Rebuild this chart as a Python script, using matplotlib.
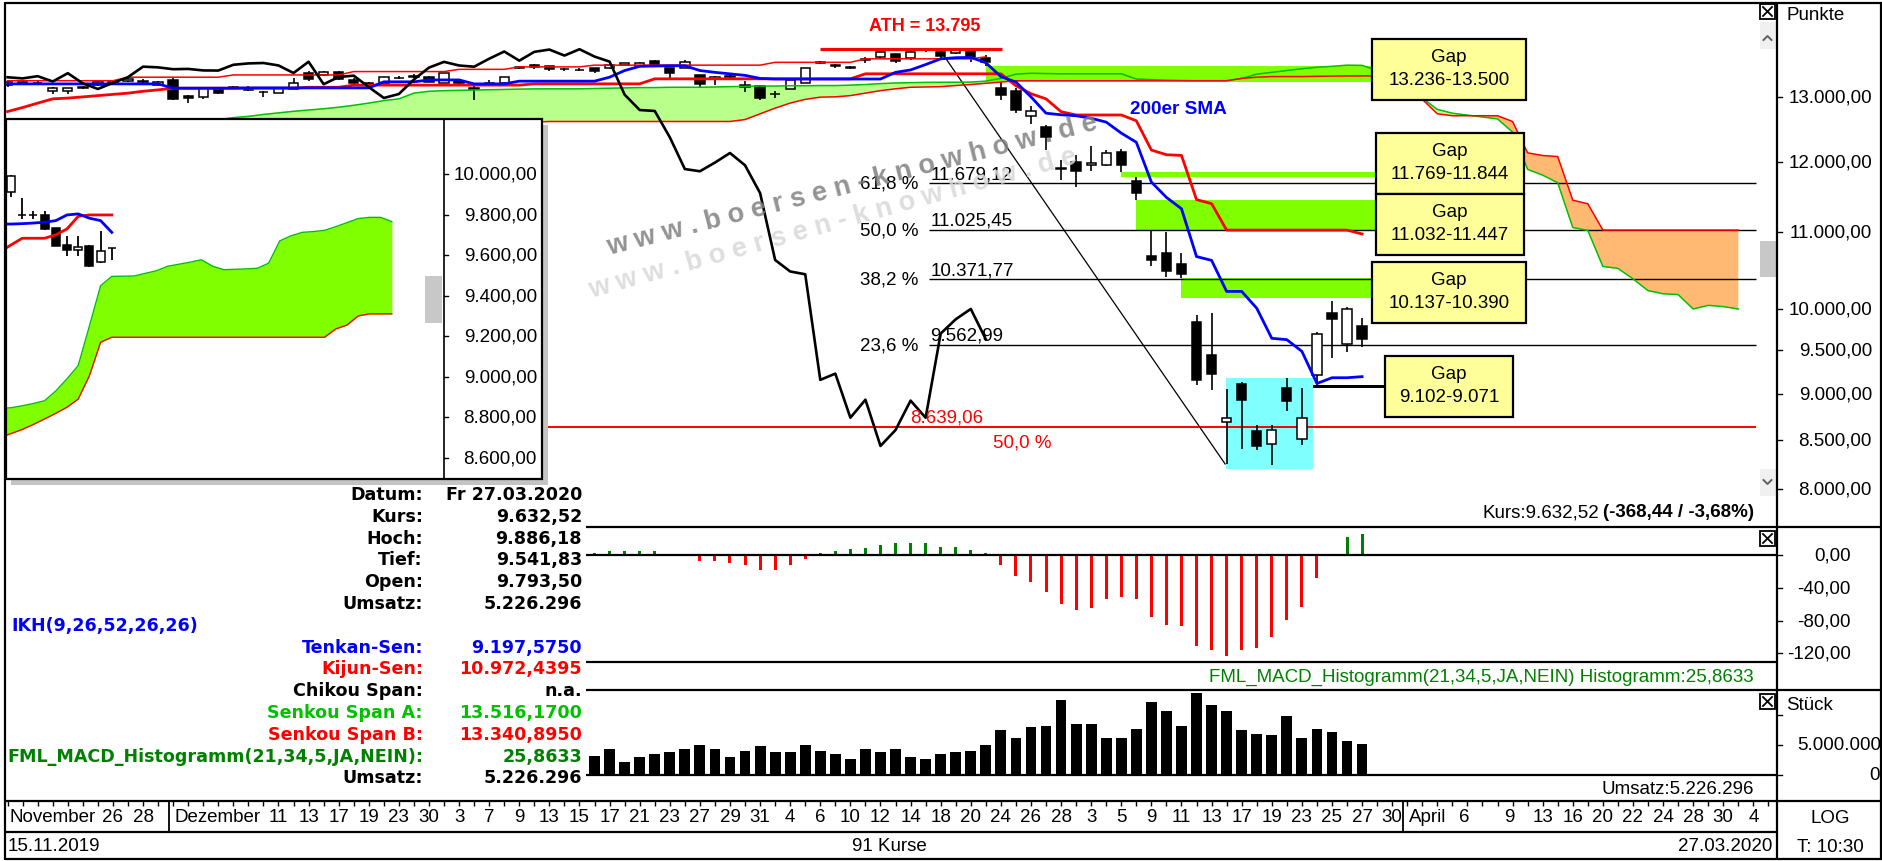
import numpy as np
import matplotlib
matplotlib.use("Agg")
import matplotlib.pyplot as plt
from matplotlib.patches import Rectangle
from matplotlib.transforms import blended_transform_factory as blend

W, H = 1883, 862
LS = "Liberation Sans"
DJ = "DejaVu Sans"
FS = 13.5

# DAX Tageskerzen 15.11.2019 - 27.03.2020 (91 Kurse), index 0 = 15.11.2019
opens = [13190, 13235, 13230, 13100, 13090, 13150, 13200, 13245, 13255, 13260,
         13200, 13270, 13020, 12990, 13120, 13150, 13150, 13080, 13070, 13130,
         13390, 13350, 13410, 13280, 13225, 13230, 13310, 13320, 13330, 13230,
         13250, 13140, 13210, 13220, 13480, 13520, 13500, 13450, 13445, 13470,
         13470, 13520, 13500, 13590, 13470, 13480, 13350, 13290, 13330, 13200,
         13180, 13050, 13130, 13230, 13560, 13530, 13480, 13610, 13650, 13700,
         13640, 13770, 13750, 13730, 13780, 13640, 13150, 13100, 12690, 12520,
         11900, 12000, 11950, 11950, 12150, 11720, 10680, 10720, 10570, 9844,
         9450, 8700, 9110, 8600, 8465, 9070, 8520, 9215, 9950, 9580,
         9793.50]
highs = [13250, 13260, 13260, 13160, 13150, 13180, 13265, 13270, 13300, 13290,
         13260, 13300, 13030, 13150, 13160, 13180, 13170, 13100, 13150, 13300,
         13425, 13425, 13420, 13300, 13240, 13330, 13340, 13380, 13345, 13390,
         13270, 13180, 13280, 13330, 13510, 13540, 13510, 13480, 13470, 13480,
         13530, 13560, 13570, 13600, 13480, 13600, 13360, 13340, 13370, 13250,
         13200, 13100, 13290, 13480, 13590, 13540, 13500, 13650, 13760, 13710,
         13760, 13790, 13760, 13795, 13790, 13689, 13236, 13140, 12860, 12560,
         12020, 12100, 12240, 12180, 12190, 11769, 11032, 11000, 10720, 9930,
         9955, 9060, 9138, 8665, 8665, 9182, 9071, 9720, 10100, 10030,
         9886.18]
lows = [13160, 13190, 13200, 13050, 13040, 13120, 13170, 13210, 13240, 13230,
        13190, 12950, 12900, 12970, 13040, 13120, 13100, 12990, 13060, 13120,
        13250, 13340, 13280, 13200, 13170, 13220, 13290, 13300, 13240, 13220,
        13180, 12950, 13190, 13180, 13460, 13460, 13420, 13420, 13420, 13390,
        13460, 13500, 13490, 13500, 13300, 13470, 13160, 13190, 13300, 13080,
        12950, 12980, 13120, 13220, 13540, 13480, 13450, 13560, 13640, 13560,
        13610, 13740, 13620, 13710, 13570, 13500, 12950, 12740, 12570, 12180,
        11724, 11630, 11860, 11930, 11844, 11447, 10550, 10410, 10390, 9100,
        9050, 8256, 8410, 8395, 8250, 8815, 8450, 9102, 9410, 9480,
        9541.83]
closes = [13242, 13207, 13221, 13148, 13137, 13164, 13247, 13232, 13287, 13245,
          13236, 12965, 12989, 13140, 13055, 13167, 13105, 13071, 13141, 13222,
          13283, 13407, 13287, 13222, 13212, 13319, 13300, 13337, 13249, 13386,
          13219, 13127, 13227, 13321, 13495, 13483, 13452, 13457, 13432, 13430,
          13526, 13549, 13556, 13515, 13389, 13577, 13205, 13324, 13345, 13158,
          12982, 13046, 13282, 13479, 13575, 13514, 13494, 13628, 13750, 13595,
          13744, 13783, 13681, 13789, 13664, 13579, 13035, 12790, 12775, 12367,
          11890, 11857, 11985, 12128, 11945, 11542, 10625, 10475, 10439, 9161,
          9232, 8742, 8939, 8442, 8610, 8929, 8742, 9701, 9874, 10000.96,
          9632.52]

# Ichimoku (IKH 9,26,52,26,26) as drawn
tenkan = [13210, 13210, 13210, 13210, 13210, 13210, 13210, 13210, 13210, 13210,
          13210, 13140, 13140, 13140, 13140, 13140, 13145, 13145, 13145, 13145,
          13145, 13145, 13145, 13145, 13145, 13244, 13244, 13244, 13275, 13275,
          13275, 13210, 13210, 13210, 13255, 13255, 13255, 13255, 13255, 13255,
          13320, 13430, 13500, 13505, 13510, 13510, 13430, 13400, 13375, 13350,
          13300, 13290, 13290, 13290, 13290, 13290, 13290, 13290, 13290, 13400,
          13440, 13530, 13626, 13645, 13650, 13560, 13330, 13240, 13000, 12740,
          12715, 12700, 12660, 12600, 12430, 12290, 11700, 11480, 11320, 10670,
          10620, 10220, 10220, 10010, 9644, 9628, 9490, 9120, 9185, 9185,
          9197.5750]
kijun = [12766, 12830, 12900, 12968, 12980, 13000, 13020, 13040, 13060, 13090,
         13113, 13140, 13140, 13140, 13140, 13140, 13140, 13140, 13140, 13140,
         13155, 13155, 13155, 13190, 13190, 13190, 13190, 13190, 13190, 13190,
         13190, 13190, 13190, 13190, 13190, 13211, 13211, 13211, 13211, 13211,
         13211, 13211, 13211, 13293, 13293, 13293, 13293, 13293, 13293, 13293,
         13293, 13293, 13293, 13293, 13293, 13293, 13293, 13376, 13376, 13376,
         13376, 13376, 13376, 13376, 13376, 13376, 13376, 13180, 13050, 12968,
         12763, 12712, 12712, 12712, 12712, 12621, 12172, 12102, 12092, 11448,
         11392, 11025, 11025, 11025, 11025, 11025, 11025, 11025, 11025, 11025,
         10972.4395]
span_start = 10   # first index of the senkou arrays (runs 25 bars into the future)
senkou_a = [12550, 12580, 12600, 12620, 12640, 12670, 12690, 12720, 12745, 12770,
            12790, 12810, 12835, 12865, 12900, 12940, 12968, 13060, 13090, 13100,
            13105, 13110, 13115, 13120, 13125, 13129, 13130, 13130, 13130, 13135,
            13140, 13145, 13150, 13150, 13155, 13155, 13155, 13160, 13165, 13170,
            13175, 13175, 13180, 13180, 13183, 13183, 13190, 13200, 13215, 13225,
            13230, 13235, 13237, 13237, 13240, 13255, 13300, 13370, 13385, 13380,
            13376, 13376, 13376, 13376, 13376, 13290, 13280, 13270, 13265, 13262,
            13262, 13262, 13300, 13370, 13400, 13430, 13460, 13485, 13500, 13520,
            13516.17, 13430, 13300, 13150, 12980, 12800, 12740, 12710, 12680, 12650,
            12445, 11885, 11800, 11690, 11060, 11020, 10540, 10515, 10380, 10230,
            10190, 10180, 10000, 10045, 10030, 10000]
senkou_b = [12600, 12600, 12600, 12600, 12600, 12600, 12600, 12600, 12600, 12600,
            12600, 12600, 12600, 12600, 12600, 12600, 12600, 12600, 12600, 12600,
            12600, 12600, 12600, 12600, 12600, 12600, 12610, 12610, 12610, 12610,
            12610, 12610, 12610, 12610, 12610, 12610, 12610, 12610, 12610, 12640,
            12730, 12820, 12900, 12960, 12995, 13000, 13020, 13060, 13100, 13130,
            13155, 13160, 13165, 13183, 13200, 13220, 13240, 13262, 13262, 13262,
            13262, 13262, 13262, 13262, 13262, 13262, 13262, 13262, 13262, 13262,
            13262, 13262, 13300, 13320, 13330, 13330, 13330, 13335, 13338, 13340,
            13340.8950, 13341, 13270, 13180, 12960, 12730, 12700, 12700, 12700, 12700,
            12610, 12130, 12090, 12075, 11440, 11390, 11025, 11025, 11025, 11025,
            11025, 11025, 11025, 11025, 11025, 11025]
red_top = [13262, 13262, 13262, 13262, 13262, 13262, 13262, 13262, 13320, 13320,
           13320, 13320, 13320, 13320, 13320, 13357, 13357, 13357, 13357, 13357,
           13357, 13357, 13357, 13413, 13413, 13413, 13413, 13413, 13413, 13413,
           13450, 13450, 13450, 13450, 13491, 13491, 13491, 13491, 13491, 13520,
           13520, 13520, 13520, 13520, 13520, 13520, 13520, 13520, 13520, 13520,
           13520, 13567, 13567, 13567, 13567, 13567, 13567, 13626, 13626, 13626,
           13626, 13626, 13626, 13626, 13626, 13660]
chikou_shift = 25

# FML_MACD_Histogramm(21,34,5) and Umsatz, visible part from index 38
sub_start = 38
macd_hist = [3.0, 2.9, 4.5, 4.5, 4.5, 4.5, 0.4, 0.3, -7.3, -7.3,
             -9.4, -12.6, -18.8, -18.8, -12.6, -5.3, 2.9, 4.5, 6.9, 8.2,
             12.2, 14.3, 14.3, 14.3, 10.2, 10.2, 6.5, 2.9, -12.6, -25.7,
             -33.0, -44.9, -60.4, -67.7, -64.5, -54.3, -51.0, -54.3, -75.5, -84.9,
             -86.9, -111.4, -115.5, -122.8, -115.5, -113.4, -100.0, -79.0, -63.4, -27.6,
             0.5, 21.8, 25.8633]
volume_mio = [3.8, 3.2, 4.3, 2.1, 2.95, 3.5, 3.8, 4.3, 5.05, 4.3,
              2.95, 3.95, 4.8, 3.8, 3.8, 5.05, 4.0, 3.5, 2.7, 4.3,
              3.8, 4.3, 2.95, 2.7, 3.5, 3.8, 4.05, 5.05, 7.5, 6.1,
              7.95, 8.2, 12.4, 8.5, 8.5, 6.1, 6.1, 7.65, 12.1, 10.55,
              8.2, 13.65, 11.55, 10.55, 7.4, 6.85, 6.65, 9.8, 6.2, 7.6,
              7.2, 5.65, 5.226296]

# Fibonacci / ATH / gaps
ath = 13795
fib_low = 8256
fib_pct = ["61,8 %", "50,0 %", "38,2 %", "23,6 %"]
fib_val = [11679.12, 11025.45, 10371.77, 9562.99]
red_level = 8639.06
gap_lo = [13236, 11769, 11032, 10137, 9071]
gap_hi = [13500, 11844, 11447, 10390, 9102]
gap_from = [65, 74, 75, 78, 86]
gap_txt = ["13.236-13.500", "11.769-11.844", "11.032-11.447", "10.137-10.390", "9.102-9.071"]

# Inset chart (Ausschnitt)
in_open = [9910, 9800, 9800, 9798, 9732, 9650, 9623, 9647, 9564, 9636]
in_high = [9995, 9880, 9815, 9815, 9735, 9696, 9696, 9650, 9720, 9636]
in_low = [9885, 9778, 9778, 9725, 9643, 9594, 9597, 9540, 9562, 9577]
in_close = [9990, 9796, 9797, 9729, 9647, 9627, 9640, 9548, 9622, 9633]
in_blue = [9753, 9753, 9755, 9758, 9762, 9770, 9798, 9803, 9782, 9770, 9712]
in_red = [9615, 9650, 9683, 9683, 9683, 9700, 9729, 9791, 9798, 9798, 9798]
in_cloud_top = [8845, 8847, 8857, 8868, 8882, 8930, 8990, 9055, 9250, 9449,
                9495, 9496, 9497, 9510, 9523, 9545, 9555, 9565, 9577, 9545,
                9528, 9530, 9532, 9535, 9560, 9670, 9695, 9712, 9716, 9722,
                9740, 9760, 9780, 9786, 9786, 9765]
in_cloud_bot = [8700, 8720, 8740, 8765, 8792, 8820, 8850, 8890, 9005, 9170,
                9195, 9195, 9195, 9195, 9195, 9195, 9195, 9195, 9195, 9195,
                9195, 9195, 9195, 9195, 9195, 9195, 9195, 9195, 9195, 9195,
                9236, 9255, 9300, 9310, 9310, 9310]
in_ticks = [10000, 9800, 9600, 9400, 9200, 9000, 8800, 8600]

price_ticks = [13000, 12000, 11000, 10000, 9500, 9000, 8500, 8000]
macd_ticks = [0, -40, -80, -120]

xlab_idx = [7, 9, 18, 20, 22, 24, 26, 28, 30, 32, 34, 36, 38, 40, 42, 44, 46, 48, 50,
            52, 54, 56, 58, 60, 62, 64, 66, 68, 70, 72, 74, 76, 78, 80, 82, 84, 86, 88,
            90, 92.0, 96.8, 99.8, 102, 104, 106, 108, 110, 112, 114, 116]
xlab_txt = ["26", "28", "11", "13", "17", "19", "23", "30", "3", "7", "9", "13", "15", "17",
            "21", "23", "27", "29", "31", "4", "6", "10", "12", "14", "18", "20", "24", "26",
            "28", "3", "5", "9", "11", "13", "17", "19", "23", "25", "27", "30", "6", "9",
            "13", "16", "20", "22", "24", "28", "30", "4"]
month_idx = [0, 11, 93]
month_txt = ["November", "Dezember", "April"]
n_slots = 118


def de(v, nd=2):
    s = f"{v:,.{nd}f}"
    return s.replace(",", "#").replace(".", ",").replace("#", ".")


fig = plt.figure(figsize=(W / 100, H / 100), dpi=100)
fig.patch.set_facecolor("white")


def px_axes(x0, y0, x1, y1, z):
    return fig.add_axes([x0 / W, 1 - y1 / H, (x1 - x0) / W, (y1 - y0) / H], zorder=z)


def plain(a, face):
    a.set_xticks([])
    a.set_yticks([])
    a.set_facecolor(face)
    for s in a.spines.values():
        s.set_visible(False)


XLIM = (-0.106, 117.57)
idx = np.arange(len(closes))
o = np.array(opens); c = np.array(closes)
hi = np.array(highs); lo = np.array(lows)

# ---------------- main price panel (log) ----------------
ax = px_axes(6, 4, 1777, 500, 1)
ax.set_yscale("log")
ax.set_ylim(7906, 14600)
ax.set_xlim(*XLIM)
ax.axis("off")

sx = np.arange(span_start, span_start + len(senkou_a))
sa = np.array(senkou_a); sb = np.array(senkou_b)
ax.fill_between(sx, sa, sb, where=sa >= sb, interpolate=True, color="#B9FF8C", lw=0, zorder=1)
ax.fill_between(sx, sa, sb, where=sa < sb, interpolate=True, color="#FFB973", lw=0, zorder=1)

gap_to = [90.66, 90.92, 90.92, 90.66, 91.5]
for k in range(len(gap_lo)):
    col = "#80FF00" if k < 4 else "black"
    ax.fill_between([gap_from[k], gap_to[k]], gap_lo[k], gap_hi[k], color=col, lw=0, zorder=1.4)

ax.add_patch(Rectangle((80.95, 8204), 5.8, 9182 - 8204, facecolor="#80FFFF", edgecolor="none", zorder=1.5))

ax.hlines(fib_val, 61.2, 116.2, colors="black", lw=1.0, zorder=2)
ax.hlines(red_level, 0, 116.2, colors="#FF0000", lw=1.4, zorder=2)
ax.plot([61.9, 80.9], [ath, fib_low], color="black", lw=0.9, zorder=2)

ax.vlines(idx, lo, hi, colors="black", lw=1.2, zorder=3)
ax.bar(idx, np.maximum(np.abs(c - o), 1.0), bottom=np.minimum(o, c), width=0.62,
       color=["white" if cc >= oo else "black" for oo, cc in zip(o, c)],
       edgecolor="black", lw=1.1, zorder=3.2)

ax.plot(sx, sa, color="#00C000", lw=1.1, zorder=4)
ax.plot(sx, sb, color="#FF0000", lw=1.1, zorder=4)
ax.plot(np.arange(len(red_top)), red_top, color="#FF0000", lw=1.1, zorder=4)
ax.plot(idx, kijun, color="#FF0000", lw=2.0, zorder=4.2)
ax.plot(idx, tenkan, color="#0000FF", lw=2.0, zorder=4.3)
ax.plot(idx[:-chikou_shift], c[chikou_shift:], color="black", lw=1.9, zorder=4.4)

ax.hlines(ath, 54.0, 66.1, colors="#FF0000", lw=2.3, zorder=4.5)
ax.annotate("ATH = " + de(ath, 0), xy=(60.96, ath), xytext=(0, 17), textcoords="offset points",
            ha="center", va="center", color="#FF0000", fontsize=13, fontweight="bold", family=LS, zorder=6)
ax.text(77.8, 12808, "200er SMA", color="#0000FF", fontsize=13.7, fontweight="bold",
        ha="center", va="center", family=LS, zorder=6)
for pct, v in zip(fib_pct, fib_val):
    ax.annotate(pct, xy=(60.5, v), ha="right", va="center", fontsize=FS, family=LS, zorder=6)
    ax.annotate(de(v), xy=(61.3, v), xytext=(0, 1), textcoords="offset points",
                ha="left", va="bottom", fontsize=FS, family=LS, zorder=6)
ax.annotate(de(red_level), xy=(60.0, red_level), xytext=(0, 1), textcoords="offset points",
            ha="left", va="bottom", fontsize=FS, family=LS, color="#FF0000", zorder=6)
ax.annotate("50,0 %", xy=(65.5, red_level), xytext=(0, -10.5), textcoords="offset points",
            ha="left", va="center", fontsize=FS, family=LS, color="#FF0000", zorder=6)

# ---------------- MACD histogram ----------------
am = px_axes(6, 528, 1777, 663, 1)
am.set_xlim(*XLIM); am.set_ylim(-130.6, 34.2); am.axis("off")
mi = np.arange(sub_start, sub_start + len(macd_hist))
mh = np.array(macd_hist)
am.bar(mi, mh, width=0.2, color=["#008000" if v >= 0 else "#FF0000" for v in mh], lw=0)
am.axhline(0, color="black", lw=1.6)

# ---------------- volume ----------------
av = px_axes(6, 691, 1777, 776, 1)
av.set_xlim(*XLIM); av.set_ylim(0, 14.12e6); av.axis("off")
vol = np.array(volume_mio) * 1e6
av.bar(mi, vol, width=0.72, color="black", lw=0)

# ---------------- inset ----------------
sh = px_axes(11, 126, 548, 486, 5)
plain(sh, "#C4C4C4")
ibg = px_axes(6, 120, 542, 480, 6)
plain(ibg, "white")
ai = px_axes(6, 120, 444, 480, 7)
ai.set_xlim(-0.446, 38.66); ai.set_ylim(8496, 10271); ai.axis("off")
kc = np.arange(-1, len(in_cloud_top) - 1)
ai.fill_between(kc, in_cloud_top, in_cloud_bot, color="#80FF00", lw=0)
ai.plot(kc, in_cloud_top, color="#00C000", lw=1.0)
ai.plot(kc, in_cloud_bot, color="#FF0000", lw=1.0)
kk = np.arange(len(in_close))
io = np.array(in_open); ic = np.array(in_close)
ai.vlines(kk, in_low, in_high, colors="black", lw=1.3, zorder=3)
ai.bar(kk, np.maximum(np.abs(ic - io), 1.0), bottom=np.minimum(io, ic), width=0.7,
       color=["white" if b >= a else "black" for a, b in zip(io, ic)], edgecolor="black", lw=1.1, zorder=3.2)
kl = np.arange(-1, len(in_blue) - 1)
ai.plot(kl, in_red, color="#FF0000", lw=2.0, zorder=4)
ai.plot(kl, in_blue, color="#0000FF", lw=2.0, zorder=4)

# ---------------- overlay: frames, texts, annotations ----------------
top = px_axes(0, 0, W, H, 10)
top.set_xlim(0, W); top.set_ylim(H, 0); top.axis("off")
PX = top.transData

# info panel background over the left part of the sub panels
top.add_patch(Rectangle((6, 487), 580, 314, facecolor="white", edgecolor="none", zorder=0))

# watermark
wm = "w w w . b o e r s e n - k n o w h o w . d e"
top.text(852, 185, wm, rotation=14.4, rotation_mode="anchor", ha="center", va="center",
         fontsize=19.5, fontweight="bold", color="#808080", family=LS, alpha=0.85, zorder=0.5)
top.text(833, 224, wm, rotation=15.5, rotation_mode="anchor", ha="center", va="center",
         fontsize=19.5, fontweight="bold", color="#D8D8D8", family=LS, alpha=0.85, zorder=0.4)

fr = dict(colors="black", lw=1.6, zorder=2)
top.hlines(3.5, 5, W, **fr)
top.hlines(860.5, 5, W, **fr)
top.vlines(5.5, 3, 861, **fr)
top.vlines(1881.5, 3, 861, **fr)
top.vlines(1777, 3, 861, **fr)
top.hlines([528, 691], 586, W, **fr)
top.hlines([663, 776], 586, 1777, **fr)
top.hlines(802, 5, W, **fr)
top.hlines(833, 5, 1777, **fr)

# inset frame + its axis
top.add_patch(Rectangle((6, 120), 536, 360, fill=False, edgecolor="black", lw=1.6, zorder=2))
top.vlines(444, 120, 480, colors="black", lw=1.2, zorder=2)
top.add_patch(Rectangle((425, 277), 17, 47, facecolor="#C8C8C8", edgecolor="none", zorder=1))
tr_in = blend(PX, ai.transData)
for v in in_ticks:
    top.text(537, v, de(v), transform=tr_in, ha="right", va="center", fontsize=FS, family=LS)
    top.plot([444, 448], [v, v], transform=tr_in, color="black", lw=1)

# gap boxes
gap_boxes = [(1372, 40, 1526, 101), (1376, 134, 1524, 195), (1376, 195, 1524, 256),
             (1372, 263, 1526, 324), (1385, 357, 1513, 418)]
for (x0, y0, x1, y1), t in zip(gap_boxes, gap_txt):
    top.add_patch(Rectangle((x0, y0), x1 - x0, y1 - y0, facecolor="#FFFF99", edgecolor="black", lw=1.6, zorder=3))
    cx, cy = (x0 + x1) / 2, (y0 + y1) / 2
    top.text(cx, cy - 13, "Gap", ha="center", va="center", fontsize=FS, family=LS, zorder=4)
    top.text(cx, cy + 10, t, ha="center", va="center", fontsize=FS, family=LS, zorder=4)

# right axes labels
tr_main = blend(PX, ax.transData)
for v in price_ticks:
    top.text(1872, v, de(v), transform=tr_main, ha="right", va="center", fontsize=FS, family=LS)
    top.plot([1777, 1782], [v, v], transform=tr_main, color="black", lw=1)
top.text(1787, 16, "Punkte", ha="left", va="center", fontsize=FS, family=LS)
tr_m = blend(PX, am.transData)
for v in macd_ticks:
    top.text(1851, v, de(v), transform=tr_m, ha="right", va="center", fontsize=FS, family=LS)
    top.plot([1777, 1782], [v, v], transform=tr_m, color="black", lw=1)
tr_v = blend(PX, av.transData)
top.text(1881, 5e6, "5.000.000", transform=tr_v, ha="right", va="center", fontsize=FS, family=LS)
top.text(1880, 0, "0", transform=tr_v, ha="right", va="center", fontsize=FS, family=LS)
for v in [0, 5e6, 10e6]:
    top.plot([1777, 1782], [v, v], transform=tr_v, color="black", lw=1)
top.text(1786, 706, "Stück", ha="left", va="center", fontsize=FS, family=LS)


def xbox(x0, y0, s=15):
    top.add_patch(Rectangle((x0, y0), s, s, fill=False, edgecolor="black", lw=1.3, zorder=3))
    top.plot([x0 + 3, x0 + s - 3], [y0 + 3, y0 + s - 3], color="black", lw=1.3, zorder=3)
    top.plot([x0 + 3, x0 + s - 3], [y0 + s - 3, y0 + 3], color="black", lw=1.3, zorder=3)


xbox(1760, 5)
xbox(1760, 532)
xbox(1760, 695)
top.add_patch(Rectangle((1760, 23), 16, 27, facecolor="#F0F0F0", edgecolor="none", zorder=1))
top.plot([1763.5, 1767.5, 1771.5], [41, 37, 41], color="#606060", lw=1.4, zorder=3)
top.add_patch(Rectangle((1760, 242), 16, 36, facecolor="#C8C8C8", edgecolor="none", zorder=1))
top.add_patch(Rectangle((1760, 470), 16, 27, facecolor="#F0F0F0", edgecolor="none", zorder=1))
top.plot([1763.5, 1767.5, 1771.5], [481, 485, 481], color="#606060", lw=1.4, zorder=3)

# captions
tb = top.text(1754, 513, "(" + de(c[-1] - c[-2]) + " / " + de((c[-1] / c[-2] - 1) * 100) + "%)",
              ha="right", va="center", fontsize=FS, family=LS, fontweight="bold")
fig.canvas.draw()
bb = tb.get_window_extent(renderer=fig.canvas.get_renderer())
top.text(bb.x0 - 4, 513, "Kurs:" + de(c[-1]), ha="right", va="center", fontsize=FS, family=LS)
top.text(1754, 677, "FML_MACD_Histogramm(21,34,5,JA,NEIN) Histogramm:" + de(mh[-1], 4),
         ha="right", va="center", fontsize=FS, family=LS, color="#008000")
top.text(1754, 790, "Umsatz:" + de(vol[-1], 0), ha="right", va="center", fontsize=FS, family=LS)

# x axis
tr_x = blend(ax.transData, PX)
top.vlines(np.arange(n_slots), 802, 807, transform=tr_x, colors="black", lw=1)
for i, t in zip(xlab_idx, xlab_txt):
    top.text(i, 818, t, transform=tr_x, ha="center", va="center", fontsize=FS, family=LS)
for i, t in zip(month_idx, month_txt):
    if i > 0:
        top.vlines(i - 0.25, 802, 833, transform=tr_x, colors="black", lw=1.3)
    top.text(i + 0.1, 818, t, transform=tr_x, ha="left", va="center", fontsize=FS, family=LS)
top.text(8, 847, "15.11.2019", ha="left", va="center", fontsize=FS, family=LS)
top.text(889, 847, f"{len(closes)} Kurse", ha="center", va="center", fontsize=FS, family=LS)
top.text(1772, 847, "27.03.2020", ha="right", va="center", fontsize=FS, family=LS)
top.text(1830, 819, "LOG", ha="center", va="center", fontsize=FS, family=LS)
top.text(1830, 848, "T: 10:30", ha="center", va="center", fontsize=FS, family=LS)

# info panel
rows = [("Datum:", "Fr 27.03.2020", "black"),
        ("Kurs:", de(c[-1]), "black"),
        ("Hoch:", de(hi[-1]), "black"),
        ("Tief:", de(lo[-1]), "black"),
        ("Open:", de(o[-1]), "black"),
        ("Umsatz:", de(vol[-1], 0), "black"),
        ("IKH(9,26,52,26,26)", None, "#0000FF"),
        ("Tenkan-Sen:", de(tenkan[-1], 4), "#0000FF"),
        ("Kijun-Sen:", de(kijun[-1], 4), "#FF0000"),
        ("Chikou Span:", "n.a.", "black"),
        ("Senkou Span A:", de(sa[90 - span_start], 4), "#00C000"),
        ("Senkou Span B:", de(sb[90 - span_start], 4), "#FF0000"),
        ("FML_MACD_Histogramm(21,34,5,JA,NEIN):", de(mh[-1], 4), "#008000"),
        ("Umsatz:", de(vol[-1], 0), "black")]
for r, (lab, val, col) in enumerate(rows):
    y = 495 + 21.8 * r
    if val is None:
        top.text(11, y, lab, ha="left", va="center", fontsize=12.6, family=DJ, fontweight="bold", color=col)
        continue
    top.text(423, y, lab, ha="right", va="center", fontsize=12.6, family=DJ, fontweight="bold", color=col)
    top.text(582, y, val, ha="right", va="center", fontsize=12.6, family=DJ, fontweight="bold", color=col)

fig.savefig("out.png", dpi=100, facecolor="white")
